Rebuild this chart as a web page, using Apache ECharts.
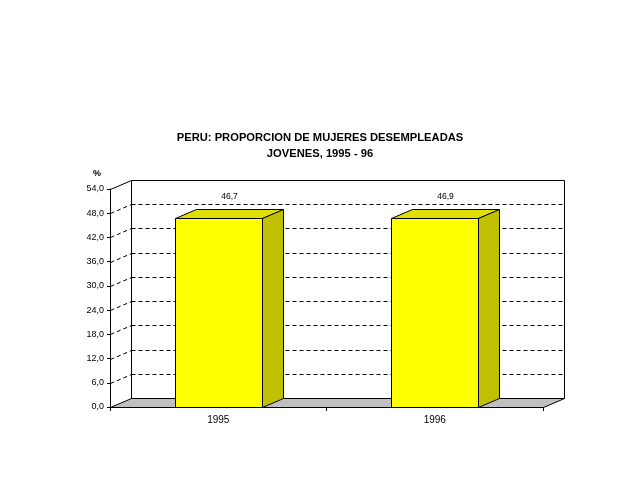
<!DOCTYPE html>
<html>
<head>
<meta charset="utf-8">
<script src="https://cdn.jsdelivr.net/npm/echarts@6/dist/echarts.min.js"></script>
<style>html,body{margin:0;padding:0;background:#fff;}#c{width:640px;height:480px;}</style>
</head>
<body>
<div id="c"></div>
<script>
const titleLines = ['PERU: PROPORCION DE MUJERES DESEMPLEADAS', 'JOVENES, 1995 - 96'];
const unitLabel = '%';
const categories = ['1995', '1996'];
const values = [46.7, 46.9];
const yMin = 0;
const yMax = 54;
const yStep = 6;
const yTicks = [0, 6, 12, 18, 24, 30, 36, 42, 48, 54];

const DX = 21, DY = -9;
const FONT = 'Arial, "Liberation Sans", sans-serif';
const fmt = v => v.toFixed(1).replace('.', ',');
const px = v => Math.round(v) + 0.5;

const chart = echarts.init(document.getElementById('c'), null, {renderer: 'canvas'});

function renderWalls(params, api) {
  const cs = params.coordSys;
  const x0 = px(cs.x), x1 = px(cs.x + cs.width);
  const yBot = px(api.coord([0, yMin])[1]);
  const yTop = px(api.coord([0, yMax])[1]);
  const children = [];
  children.push({type: 'polygon', shape: {points: [[x0 + DX, yTop + DY], [x1 + DX, yTop + DY], [x1 + DX, yBot + DY], [x0 + DX, yBot + DY]]},
    style: {fill: '#ffffff', stroke: '#000', lineWidth: 1}});
  children.push({type: 'polygon', shape: {points: [[x0, yBot], [x1, yBot], [x1 + DX, yBot + DY], [x0 + DX, yBot + DY]]},
    style: {fill: '#c0c0c0', stroke: '#000', lineWidth: 1}});
  yTicks.forEach(t => {
    const y = px(api.coord([0, t])[1]);
    if (t === yMin) return;
    if (t === yMax) {
      children.push({type: 'line', shape: {x1: x0, y1: y, x2: x0 + DX, y2: y + DY}, style: {stroke: '#000', lineWidth: 1}});
      return;
    }
    children.push({type: 'line', shape: {x1: x0 + DX, y1: y + DY, x2: x1 + DX, y2: y + DY}, style: {stroke: '#000', lineWidth: 1, lineDash: [4, 3]}});
    children.push({type: 'line', shape: {x1: x0, y1: y, x2: x0 + DX, y2: y + DY}, style: {stroke: '#000', lineWidth: 1, lineDash: [4, 3]}});
  });
  return {type: 'group', children};
}

function renderBar(params, api) {
  const ci = api.value(0), v = api.value(1);
  const top = api.coord([ci, v]);
  const base = api.coord([ci, yMin]);
  const band = api.size([1, 0])[0];
  const w = band * 0.4;
  const xl = px(top[0] - w / 2), xr = px(top[0] + w / 2);
  const yt = px(top[1]), yb = px(base[1]);
  return {type: 'group', children: [
    {type: 'polygon', shape: {points: [[xl, yt], [xl + DX, yt + DY], [xr + DX, yt + DY], [xr, yt]]}, style: {fill: '#e0e000', stroke: '#000', lineWidth: 1}},
    {type: 'polygon', shape: {points: [[xr, yt], [xr + DX, yt + DY], [xr + DX, yb + DY], [xr, yb]]}, style: {fill: '#c0c000', stroke: '#000', lineWidth: 1}},
    {type: 'rect', shape: {x: xl, y: yt, width: xr - xl, height: yb - yt}, style: {fill: '#ffff00', stroke: '#000', lineWidth: 1}},
    {type: 'text', x: (xl + xr) / 2 + DX / 2, y: yt + DY - 13, style: {text: fmt(v), fill: '#000', font: '8.5px ' + FONT, align: 'center', verticalAlign: 'middle'}}
  ]};
}

chart.setOption({
  animation: false,
  backgroundColor: '#ffffff',
  title: {
    text: titleLines.join('\n'),
    left: 'center',
    top: 125,
    textStyle: {fontFamily: FONT, fontSize: 11.2, fontWeight: 'bold', color: '#000', lineHeight: 16}
  },
  grid: {left: 110, right: 97, top: 189, bottom: 73, containLabel: false},
  xAxis: {
    type: 'category',
    data: categories,
    boundaryGap: true,
    axisLine: {show: true, lineStyle: {color: '#000', width: 1}},
    axisTick: {show: true, length: 4, lineStyle: {color: '#000'}},
    axisLabel: {color: '#000', fontFamily: FONT, fontSize: 10, margin: 8},
    splitLine: {show: false}
  },
  yAxis: {
    type: 'value',
    min: yMin, max: yMax, interval: yStep,
    name: unitLabel,
    nameLocation: 'end',
    nameGap: 11,
    nameTextStyle: {color: '#000', fontFamily: FONT, fontSize: 9, fontWeight: 'bold', align: 'right', padding: [0, 9, 0, 0]},
    axisLine: {show: true, lineStyle: {color: '#000', width: 1}},
    axisTick: {show: true, length: 3, lineStyle: {color: '#000'}},
    axisLabel: {color: '#000', fontFamily: FONT, fontSize: 9, margin: 6, formatter: fmt},
    splitLine: {show: false}
  },
  series: [
    {type: 'custom', coordinateSystem: 'cartesian2d', renderItem: renderWalls, data: [[0, yMin]], z: 1, silent: true, clip: false},
    {type: 'custom', coordinateSystem: 'cartesian2d', renderItem: renderBar, data: categories.map((c, i) => [i, values[i]]), z: 3, clip: false}
  ]
});
</script>
</body>
</html>
